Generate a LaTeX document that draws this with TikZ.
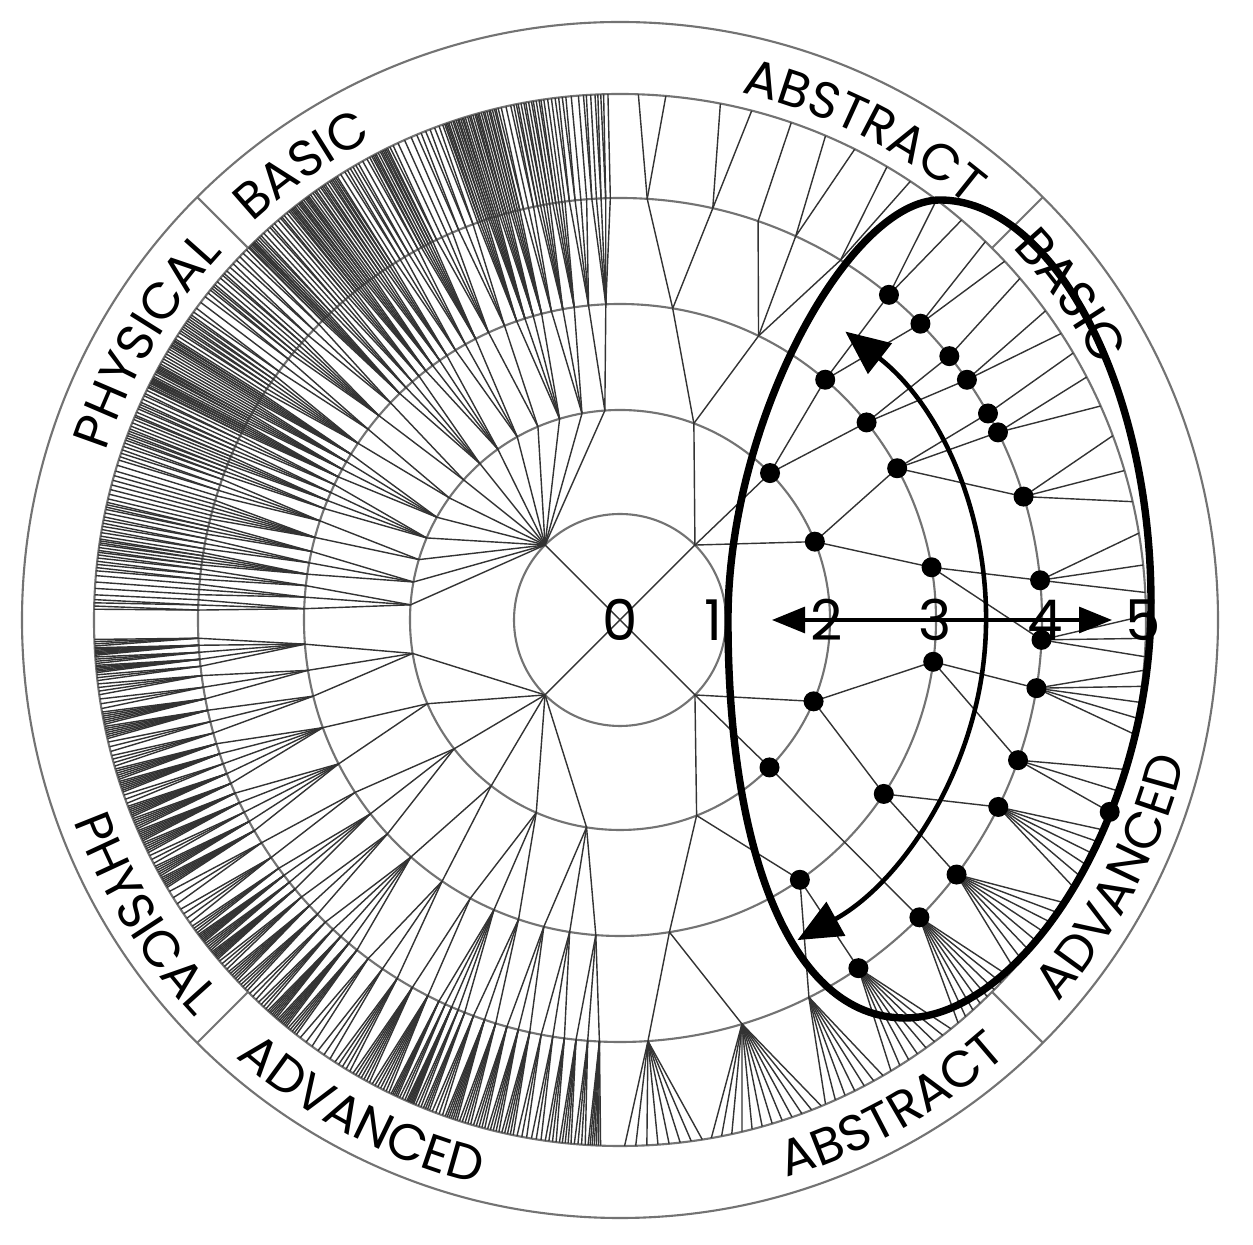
\documentclass[tikz,border=0pt]{standalone}
\usepackage{fontspec}
\newfontfamily\labelfont{Poppins}
\usetikzlibrary{arrows.meta,decorations.text}

\newcommand\rimfont{\labelfont\fontsize{14.5}{14.5}\selectfont}
\def\rA{1.06} \def\rB{2.10} \def\rC{3.16} \def\rD{4.22} \def\rE{5.26}

% dense subtree: name, first angle, span, children, max third level,
% fourth level min/max, leaves min/max
\newcommand\grow[9]{%
  \foreach \i in {1,...,#4} {
    \pgfmathsetmacro\wB{#3/#4}
    \pgfmathsetmacro\sB{#2+(\i-1)*\wB}
    \pgfmathsetmacro\aB{\sB+\wB/2}
    \coordinate (#1-\i) at (\aB:\rB);
    \draw[branch] (#1) -- (#1-\i);
    \pgfmathrandominteger{\nC}{2}{#5}
    \foreach \j in {1,...,\nC} {
      \pgfmathsetmacro\wC{\wB/\nC}
      \pgfmathsetmacro\sC{\sB+(\j-1)*\wC}
      \pgfmathsetmacro\aC{\sC+\wC/2}
      \coordinate (#1-\i-\j) at (\aC:\rC);
      \draw[branch] (#1-\i) -- (#1-\i-\j);
      \pgfmathrandominteger{\nD}{#6}{#7}
      \foreach \k in {1,...,\nD} {
        \pgfmathsetmacro\wD{\wC/\nD}
        \pgfmathsetmacro\sD{\sC+(\k-1)*\wD}
        \pgfmathsetmacro\aD{\sD+\wD/2}
        \coordinate (#1-\i-\j-\k) at (\aD:\rD);
        \draw[branch] (#1-\i-\j) -- (#1-\i-\j-\k);
        \pgfmathrandominteger{\nE}{#8}{#9}
        \foreach \m in {1,...,\nE} {
          \pgfmathsetmacro\aE{\sD+(\m-0.5)*\wD/\nE}
          \coordinate (#1-\i-\j-\k-\m) at (\aE:\rE);
          \draw[branch] (#1-\i-\j-\k) -- (#1-\i-\j-\k-\m);
        }
      }
    }
  }}

\begin{document}
\begin{tikzpicture}[
    ring/.style={draw=black!55, line width=0.6pt},
    branch/.style={draw=black!80, line width=0.4pt},
    egg/.style={line width=2.1pt},
    bendarrow/.style={line width=1.3pt,
      {Triangle[length=4.4mm,width=3.8mm]}-{Triangle[length=4.4mm,width=3.8mm]}},
    axisarrow/.style={line width=0.9pt,
      {Triangle[length=3.3mm,width=2.6mm]}-{Triangle[length=3.3mm,width=2.6mm]}},
    hit/.style={circle, fill=black, inner sep=0pt, minimum size=2mm},
    num/.style={font=\labelfont\fontsize{16}{16}\selectfont, inner sep=0pt},
    rim/.style={decorate, decoration={text along path, text align=center,
      text={|\rimfont|#1}}}
  ]
  \useasboundingbox (-6.20,-6.25) rectangle (6.33,6.20);
  \coordinate (root) at (0,0);

  % rings and sector marks
  \foreach \r in {\rA,\rB,\rC,\rD,\rE,5.98}
    \draw[ring] (root) circle[radius=\r];
  \foreach \a in {45,135,225,315}
    \draw[ring] (\a:\rE) -- (\a:5.98);

  % first level
  \foreach \nm/\a in {ne/45, nw/135, sw/225, se/-45} {
    \coordinate (\nm) at (\a:\rA);
    \draw[branch] (root) -- (\nm);
  }

  % physical side
  \pgfmathsetseed{314}
  \grow{nw}{91}{88}{14}{4}{3}{6}{1}{2}
  \grow{sw}{182}{86}{6}{3}{2}{5}{3}{7}

  % abstract side
  \foreach \nm/\a/\p in {ne1/69.4/ne, ne2/44.4/ne, ne3/21.9/ne,
      se1/-22.8/se, se2/-44.6/se, se3/-68.6/se} {
    \coordinate (\nm) at (\a:\rB);
    \draw[branch] (\p) -- (\nm);
  }
  \foreach \nm/\a/\p in {ne1a/80.4/ne1, ne1b/64/ne1, ne2a/49.5/ne2,
      ne2b/38.7/ne2, ne3a/28.7/ne3, ne3b/9.6/ne3, se1a/-7.6/se1,
      se1b/-33.4/se1, se2a/-44.7/se2, se3a/-55.3/se3, se3b/-81/se3} {
    \coordinate (\nm) at (\a:\rC);
    \draw[branch] (\p) -- (\nm);
  }
  \foreach \nm/\a/\p in {ne1a1/86.3/ne1a, ne1a2/77.3/ne1a, ne1b1/70.9/ne1b,
      ne1b2/65.4/ne1b, ne1b3/58.5/ne1b, ne2a1/50.4/ne2a, ne2a2/44.6/ne2a,
      ne2b1/38.7/ne2b, ne2b2/34.7/ne2b, ne3a1/29.3/ne3a, ne3a2/26.4/ne3a,
      ne3a3/17/ne3a, ne3b1/5.4/ne3b, ne3b2/-2.7/ne3b, se1a1/-9.3/se1a,
      se1a2/-19.4/se1a, se1b1/-26.3/se1b, se1b2/-37.1/se1b, se2a1/-44.8/se2a,
      se3a1/-55.6/se3a, se3a2/-63.4/se3a, se3b1/-73.2/se3b, se3b2/-86.2/se3b} {
    \coordinate (\nm) at (\a:\rD);
    \draw[branch] (\p) -- (\nm);
  }
  \foreach \p/\a [count=\k] in {ne1a1/88, ne1a1/85, ne1a2/79, ne1a2/75.5,
      ne1b1/71, ne1b2/67, ne1b2/63.5, ne1b3/59.5, ne1b3/56.5, ne2a1/53,
      ne2a1/49.5, ne2a2/46, ne2a2/43, ne2b1/40.5, ne2b2/36, ne2b2/33,
      ne3a1/30.5, ne3a2/27.5, ne3a2/24, ne3a3/20.5, ne3a3/16.5, ne3a3/13,
      ne3b1/9.5, ne3b1/6, ne3b1/3, ne3b2/0.5, ne3b2/-2, ne3b2/-4} {
    \coordinate (leaf-\k) at (\a:\rE);
    \draw[branch] (\p) -- (leaf-\k);
  }
  \foreach \p/\lo/\hi/\n in {se1a1/-5.5/-12.5/5, se1a2/-16.5/-21.4/3,
      se1b1/-23.5/-30.5/6, se1b2/-32.5/-41.5/8, se2a1/-42.5/-50/8,
      se3a1/-51/-59/8, se3a2/-60/-67/7, se3b1/-67.5/-80/12,
      se3b2/-81/-89.5/8} {
    \foreach \k in {1,...,\n} {
      \pgfmathsetmacro\ang{\lo+(\k-1)*(\hi-\lo)/(\n-1)}
      \coordinate (\p-\k) at (\ang:\rE);
      \draw[branch] (\p) -- (\p-\k);
    }
  }

  % selected region
  \coordinate (eggleft) at (1.08,0);
  \draw[egg] (eggleft) .. controls (1.08,2.0) and (2.3,4.2) .. (3.20,4.20)
    .. controls (4.3,4.2) and (5.31,2.4) .. (5.31,0.17)
    .. controls (5.31,-2.0) and (4.0,-3.98) .. (2.85,-3.98)
    .. controls (1.7,-3.98) and (1.08,-2.3) .. (eggleft) -- cycle;

  \foreach \nm in {ne2, ne3, ne2a, ne2b, ne3a, ne3b, ne2a1, ne2a2, ne2b1,
      ne2b2, ne3a1, ne3a2, ne3a3, ne3b1, ne3b2, se1, se2, se1a, se1b, se3a,
      se1a1, se1a2, se1b1, se1b2, se2a1, se3a1, se1a2-3}
    \node[hit] (dot-\nm) at (\nm) {};

  % arrows
  \coordinate (bendtop) at (52:3.66);
  \draw[bendarrow] (bendtop) arc[start angle=52, end angle=-61, radius=3.66];
  \coordinate (axisleft) at (1.52,0);
  \coordinate (axisright) at (4.92,0);
  \draw[axisarrow] (axisleft) -- (axisright);

  % level numbers
  \foreach \t/\x in {0/0, 1/0.93, 2/2.07, 3/3.15, 4/4.25, 5/5.23}
    \node[num] (lev\t) at (\x,0) {\t};

  % rim labels
  \path[rim=PHYSICAL] (184.5:5.41) arc[start angle=184.5, end angle=114.5, radius=5.41];
  \path[rim=BASIC] (160:5.41) arc[start angle=160, end angle=90, radius=5.41];
  \path[rim=ABSTRACT] (98.5:5.41) arc[start angle=98.5, end angle=28.5, radius=5.41];
  \path[rim=BASIC] (70.7:5.41) arc[start angle=70.7, end angle=0.7, radius=5.41];
  \path[rim=ADVANCED] (-62.5:5.82) arc[start angle=-62.5, end angle=7.5, radius=5.82];
  \path[rim=ABSTRACT] (-95.8:5.82) arc[start angle=-95.8, end angle=-25.8, radius=5.82];
  \path[rim=ADVANCED] (207.3:5.82) arc[start angle=207.3, end angle=277.3, radius=5.82];
  \path[rim=PHYSICAL] (176.7:5.82) arc[start angle=176.7, end angle=246.7, radius=5.82];
\end{tikzpicture}
\end{document}
